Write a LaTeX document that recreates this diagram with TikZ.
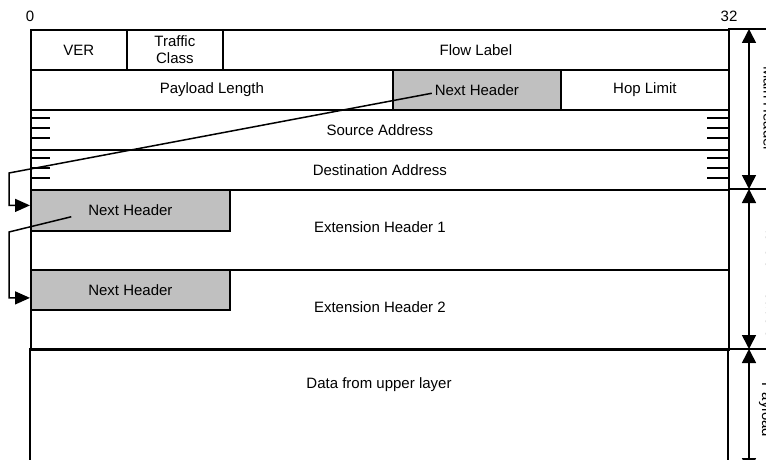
\documentclass[tikz,border=0pt]{standalone}
\usepackage{fontspec}
\setmainfont{Liberation Sans}
\usetikzlibrary{arrows.meta,calc}
\definecolor{hdrgray}{RGB}{192,192,192}
\newcommand\cellfont{\fontsize{15}{17}\selectfont}
\begin{document}
\begin{tikzpicture}[x=1pt,y=-1pt,line width=1.8pt,
  cell/.style={draw,minimum height=40pt,inner sep=0pt,font=\cellfont,anchor=north west},
  grayc/.style={cell,fill=hdrgray},
  lbl/.style={font=\cellfont,inner sep=0pt},
  sidelbl/.style={font=\cellfont,inner sep=0pt,rotate=-90,anchor=base},
  span/.style={{Triangle[width=14pt,length=14pt]}-{Triangle[width=14pt,length=14pt]},line width=1.6pt},
  conn/.style={-{Triangle[width=13pt,length=15pt]},line width=1.5pt},
  hatch/.style={line width=1.5pt}]
\useasboundingbox (0,0) rectangle (766,460);
\clip (0,0) rectangle (766,460);
% scale labels
\node[lbl] (zero) at (30,16) {0};
\node[lbl] (tt) at (729,16) {32};
% main header
\node[cell,minimum width=96pt] (ver) at (30,29) {VER};
\node[cell,minimum width=96pt,align=center] (tc) at (126,29) {Traffic\\Class};
\node[cell,minimum width=506pt] (flow) at (222,29) {Flow Label};
\node[cell,minimum width=362pt] (plen) at (30,69) {Payload Length};
\node[grayc,minimum width=168pt] (nh0) at (392,69) {Next Header};
\node[cell,minimum width=168pt] (hop) at (560,69) {Hop Limit};
\node[cell,minimum width=698pt] (src) at (30,109) {Source Address};
\node[cell,minimum width=698pt] (dst) at (30,149) {Destination Address};
% extension headers
\node[cell,minimum width=698pt,minimum height=80pt,text depth=6pt] (ext1) at (30,189) {Extension Header 1};
\node[grayc,minimum width=199pt,minimum height=41pt] (nh1) at (30,189) {Next Header};
\node[cell,minimum width=698pt,minimum height=80pt,text depth=6pt] (ext2) at (30,269) {Extension Header 2};
\node[grayc,minimum width=199pt,minimum height=40pt] (nh2) at (30,269) {Next Header};
% payload
\draw (30,349) rectangle (728,490);
\node[lbl] (data) at (379,385) {Data from upper layer};
% hatches
\foreach \r in {109,149}{
  \foreach \d in {9,19,29}{
    \draw[hatch] (30,\r+\d) -- (50,\r+\d);
    \draw[hatch] (707,\r+\d) -- (728,\r+\d);
  }
}
% right extensions of group borders
\draw (728,29) -- (780,29);
\draw (728,189) -- (780,189);
\draw (728,349) -- (780,349);
% span arrows
\coordinate (m1) at (749,29);
\coordinate (m2) at (749,189);
\coordinate (m3) at (749,349);
\coordinate (m4) at (749,472);
\draw[span] (m1) -- (m2);
\draw[span] (m2) -- (m3);
\draw[span] (m3) -- (m4);
\node[sidelbl] (lmain) at (763.5,109) {Main Header};
\node[sidelbl] (lext) at (766,275) {Extension Headers};
\node[sidelbl] (lpay) at (762,410) {Payload};
% next header connectors
\coordinate (b1) at (9,173);
\coordinate (b2) at (9,232);
\draw[conn] ($(nh0.text)+(-3,-2)$) -- (b1) |- ($(nh1.west)+(0,-5)$);
\draw[conn] ($(nh1.text)+(-17,1)$) -- (b2) |- ($(nh2.west)+(0,8)$);
\end{tikzpicture}
\end{document}
